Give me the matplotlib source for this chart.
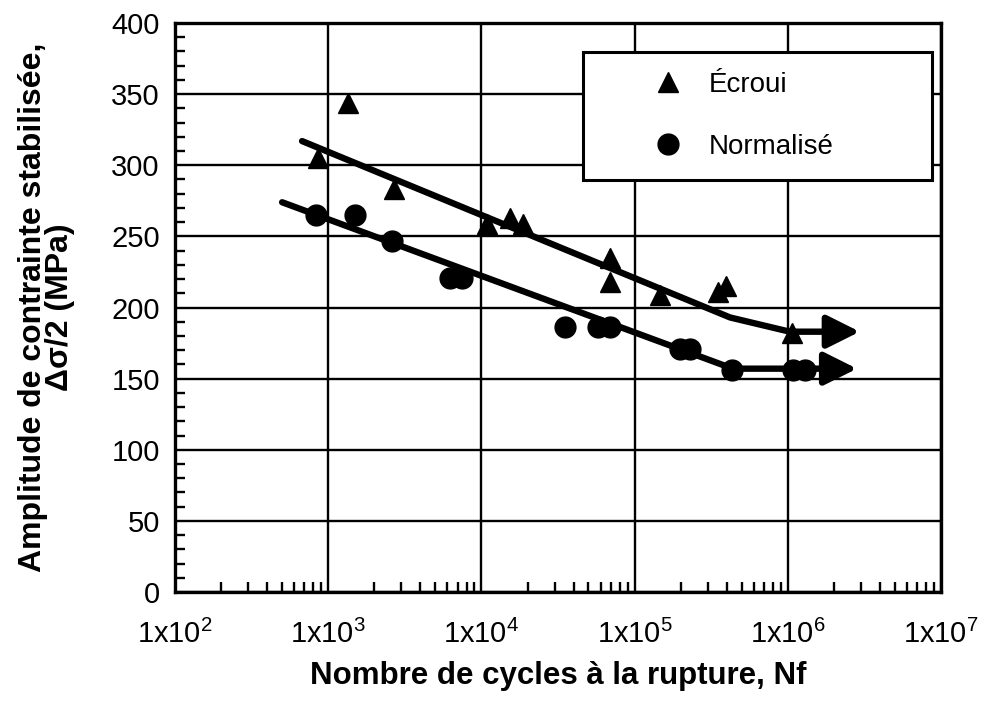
import numpy as np
import matplotlib
matplotlib.use("Agg")
import matplotlib.pyplot as plt
from matplotlib.ticker import FixedLocator, LogLocator, MultipleLocator, NullFormatter

plt.rcParams['font.family'] = ['Liberation Sans', 'DejaVu Sans']
plt.rcParams['mathtext.fontset'] = 'custom'
plt.rcParams['mathtext.rm'] = 'Liberation Sans'
plt.rcParams['mathtext.it'] = 'Liberation Sans:italic'
plt.rcParams['mathtext.bf'] = 'Liberation Sans:bold'

# Écroui (triangles)
ecroui_n = [860, 1350, 2700, 10900, 15400, 18700, 69000, 69000, 146000, 350000, 395000, 1060000]
ecroui_s = [305, 344, 283, 259, 263, 259, 235, 218, 209, 211, 215, 182]

# Normalisé (circles)
norm_n = [830, 1500, 2600, 6240, 7470, 35000, 57700, 69000, 198000, 230000, 433000, 1080000, 1290000]
norm_s = [265, 265, 247, 221, 221, 186, 186, 186, 171, 171, 156, 156, 156]

# fitted trend lines (runout continues to arrow)
ecroui_fit_n = [675, 420000, 1030000]
ecroui_fit_s = [317, 193, 183]
ecroui_arrow_n = 2950000

norm_fit_n = [500, 438000]
norm_fit_s = [274, 157]
norm_arrow_n = 2830000

xticks = [1e2, 1e3, 1e4, 1e5, 1e6, 1e7]
xtick_labels = ['1x10$^{\\mathregular{%d}}$' % k for k in range(2, 8)]
yticks = [0, 50, 100, 150, 200, 250, 300, 350, 400]

fig = plt.figure(figsize=(9.9, 7.04), dpi=100)
ax = fig.add_axes([0.1768, 0.1591, 0.7737, 0.8082])

ax.set_xscale('log')
ax.set_xlim(1e2, 1e7)
ax.set_ylim(0, 400)

ax.grid(True, which='major', color='black', linewidth=1.7)
ax.set_axisbelow(True)

# trend lines
lw = 4.6
ax.plot(ecroui_fit_n, ecroui_fit_s, color='black', linewidth=lw,
        solid_capstyle='round', solid_joinstyle='round', zorder=3)
ax.plot(norm_fit_n, norm_fit_s, color='black', linewidth=lw,
        solid_capstyle='round', solid_joinstyle='round', zorder=3)
arrow_style = '-|>,head_length=1.0,head_width=0.5'
ax.annotate('', xy=(ecroui_arrow_n, ecroui_fit_s[-1]), xytext=(ecroui_fit_n[-1], ecroui_fit_s[-1]),
            arrowprops=dict(arrowstyle=arrow_style, mutation_scale=20, lw=lw, color='black',
                            shrinkA=0, shrinkB=0), zorder=3)
ax.annotate('', xy=(norm_arrow_n, norm_fit_s[-1]), xytext=(norm_fit_n[-1], norm_fit_s[-1]),
            arrowprops=dict(arrowstyle=arrow_style, mutation_scale=20, lw=lw, color='black',
                            shrinkA=0, shrinkB=0), zorder=3)

# data points
ax.plot(ecroui_n, ecroui_s, linestyle='none', marker='^', markersize=15,
        color='black', label='Écroui', zorder=4)
ax.plot(norm_n, norm_s, linestyle='none', marker='o', markersize=15,
        color='black', label='Normalisé', zorder=4)

# ticks
ax.xaxis.set_major_locator(FixedLocator(xticks))
ax.set_xticklabels(xtick_labels)
ax.xaxis.set_minor_locator(LogLocator(base=10, subs=np.arange(2, 10), numticks=20))
ax.xaxis.set_minor_formatter(NullFormatter())
ax.yaxis.set_major_locator(FixedLocator(yticks))
ax.yaxis.set_minor_locator(MultipleLocator(10))
ax.tick_params(which='both', direction='in', top=False, right=False, labelsize=21, width=1.7)
ax.tick_params(which='major', length=0, pad=11)
ax.tick_params(which='minor', length=7)
ax.tick_params(axis='x', which='major', pad=20)

for sp in ax.spines.values():
    sp.set_linewidth(2.4)

ax.set_xlabel('Nombre de cycles à la rupture, Nf', fontsize=22.5, fontweight='bold', labelpad=9)
ax.set_ylabel('Amplitude de contrainte stabilisée,\nΔσ/2 (MPa)', fontsize=23,
              fontweight='bold', labelpad=26, linespacing=0.88)

leg = ax.legend(loc='upper left', bbox_to_anchor=(0.533, 0.729, 0.455, 0.22), mode='expand',
                fontsize=20, frameon=True, fancybox=False, framealpha=1, edgecolor='black',
                borderpad=0.72, labelspacing=1.3, handlelength=4.66, handletextpad=-0.88,
                borderaxespad=0)
leg.get_frame().set_linewidth(2.2)
leg.set_zorder(5)

fig.savefig('out.png', dpi=100)
